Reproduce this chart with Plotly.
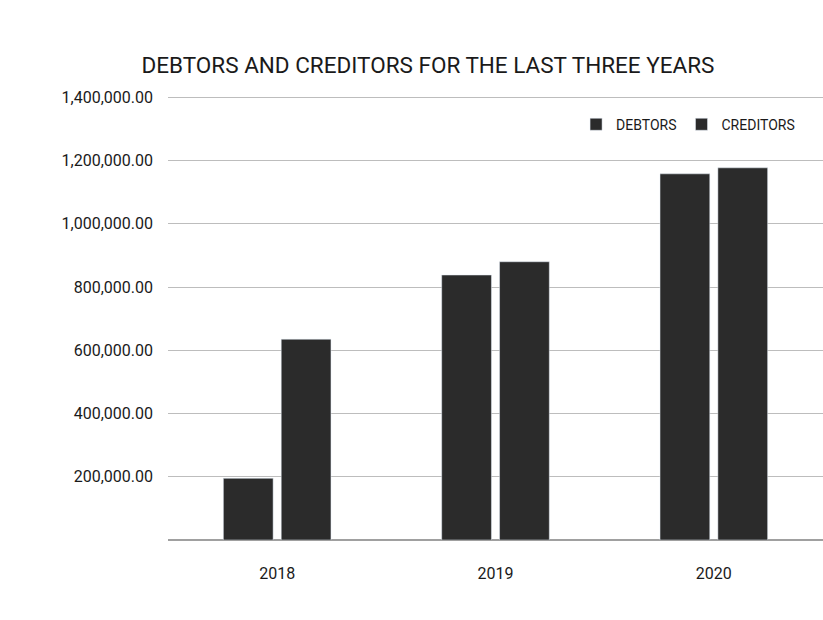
import plotly.graph_objects as go

years = ["2018", "2019", "2020"]
debtors = [195000, 838000, 1158000]
creditors = [635000, 880000, 1177000]
y_ticks = [0, 200000, 400000, 600000, 800000, 1000000, 1200000, 1400000]
y_tick_labels = ["", "200,000.00", "400,000.00", "600,000.00", "800,000.00",
                 "1,000,000.00", "1,200,000.00", "1,400,000.00"]

FONT = "Roboto, Arial, sans-serif"

fig = go.Figure()
fig.add_trace(go.Bar(name="DEBTORS", x=years, y=debtors, marker_color="#2b2b2b"))
fig.add_trace(go.Bar(name="CREDITORS", x=years, y=creditors, marker_color="#2b2b2b"))

fig.update_layout(
    width=823, height=620,
    margin=dict(l=168, r=0, t=91, b=80),
    paper_bgcolor="white", plot_bgcolor="white",
    font=dict(family=FONT, color="#1a1a1a", size=16),
    title=dict(text="DEBTORS AND CREDITORS FOR THE LAST THREE YEARS",
               x=0.52, xanchor="center", y=0.895, yanchor="middle",
               font=dict(size=22.5, family=FONT, color="#1a1a1a")),
    barmode="group", bargap=0.47, bargroupgap=0.14,
    showlegend=True,
    legend=dict(orientation="h", x=0.965, y=0.925, xanchor="right", yanchor="middle",
                font=dict(size=14, family=FONT), bgcolor="rgba(0,0,0,0)",
                itemwidth=30, traceorder="normal"),
    yaxis=dict(range=[0, 1420000], tickvals=y_ticks, ticktext=y_tick_labels,
               showgrid=True, gridcolor="#bdbdbd", gridwidth=1, zeroline=True,
               zerolinecolor="#a0a0a0", ticks="", ticklabelstandoff=14,
               tickfont=dict(size=16, family=FONT)),
    xaxis=dict(showline=False, ticks="", tickfont=dict(size=16, family=FONT),
               ticklabelstandoff=22),
)

fig.write_html("out.html")
